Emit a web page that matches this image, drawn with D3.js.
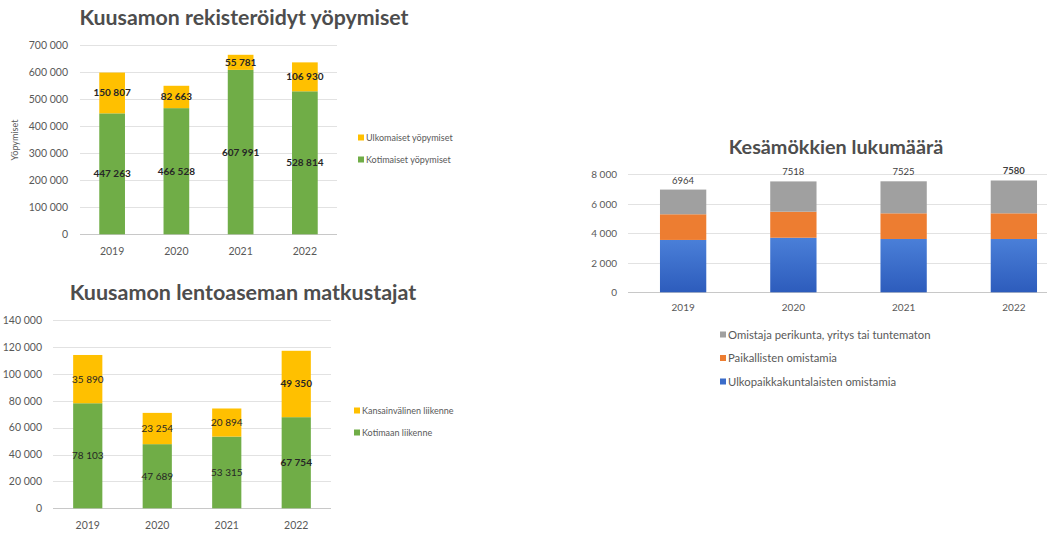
<!DOCTYPE html>
<html lang="fi">
<head>
<meta charset="utf-8">
<script src="https://cdn.jsdelivr.net/npm/d3@7"></script>
<style>
  html, body { margin: 0; padding: 0; background: #fff; }
  svg { display: block; font-family: Lato, "Open Sans", sans-serif; }
  .title { font-weight: 700; fill: #4d4d4d; }
  .tick text { fill: #595959; }
  .legend text { fill: #595959; }
</style>
</head>
<body>
<svg id="c" width="1047" height="533"></svg>
<script>
// --- data ---------------------------------------------------------------
const years = ["2019", "2020", "2021", "2022"];

// Kuusamon rekisteröidyt yöpymiset
const stayDomestic = [447263, 466528, 607991, 528814];
const stayForeign  = [150807, 82663, 55781, 106930];
const stayTicks    = [0, 100000, 200000, 300000, 400000, 500000, 600000, 700000];

// Kuusamon lentoaseman matkustajat
const paxDomestic = [78103, 47689, 53315, 67754];
const paxIntl     = [35890, 23254, 20894, 49350];
const paxTicks    = [0, 20000, 40000, 60000, 80000, 100000, 120000, 140000];

// Kesämökkien lukumäärä
const cottageNonLocal = [3550, 3700, 3615, 3615];
const cottageLocal    = [1740, 1765, 1740, 1740];
const cottageOther    = [1674, 2053, 2170, 2225];
const cottageTicks    = [0, 2000, 4000, 6000, 8000];

// --- helpers --------------------------------------------------------------
const fi = d3.formatLocale({ decimal: ",", thousands: " ", grouping: [3], currency: ["", " €"] });
const fmt = fi.format(",d");

const svg = d3.select("#c");
const defs = svg.append("defs");
const blueGrad = defs.append("linearGradient")
  .attr("id", "blueGrad").attr("x1", 0).attr("y1", 0).attr("x2", 0).attr("y2", 1);
blueGrad.append("stop").attr("offset", "0%").attr("stop-color", "#4a7fd8");
blueGrad.append("stop").attr("offset", "100%").attr("stop-color", "#2d5cbc");

function stackedChart(cfg) {
  const g = svg.append("g");
  const x = d3.scaleBand().domain(years).range(cfg.xRange).paddingInner(0).paddingOuter(0);
  const y = d3.scaleLinear().domain(cfg.yDomain).range(cfg.yRange);
  const bw = x.bandwidth() * cfg.barFrac;

  // gridlines
  g.append("g").selectAll("line").data(cfg.ticks).join("line")
    .attr("x1", cfg.xRange[0]).attr("x2", cfg.xRange[1])
    .attr("y1", d => Math.round(y(d)) + 0.5).attr("y2", d => Math.round(y(d)) + 0.5)
    .attr("stroke", d => d === 0 ? "#c8c8c8" : "#e2e2e2").attr("stroke-width", 1);

  // y axis labels
  const ya = g.append("g")
    .attr("transform", `translate(${cfg.xRange[0]},0)`)
    .call(d3.axisLeft(y).tickValues(cfg.ticks).tickFormat(fmt).tickSize(0).tickPadding(cfg.yPad));
  ya.select(".domain").remove();
  ya.selectAll("text").attr("font-size", cfg.tickFont).attr("font-family", "Lato, sans-serif");

  // x axis labels
  const xa = g.append("g")
    .attr("transform", `translate(0,${cfg.yRange[0]})`)
    .call(d3.axisBottom(x).tickSize(0).tickPadding(cfg.xPad));
  xa.select(".domain").remove();
  xa.selectAll("text").attr("font-size", cfg.tickFont).attr("font-family", "Lato, sans-serif");

  // stacked series
  const rows = years.map((yr, i) => {
    const r = { year: yr };
    cfg.series.forEach(s => { r[s.key] = s.values[i]; });
    return r;
  });
  const stack = d3.stack().keys(cfg.series.map(s => s.key))(rows);
  stack.forEach((layer, li) => {
    const s = cfg.series[li];
    const lg = g.append("g");
    lg.selectAll("rect").data(layer).join("rect")
      .attr("x", d => x(d.data.year) + (x.bandwidth() - bw) / 2)
      .attr("width", bw)
      .attr("y", d => y(d[1]))
      .attr("height", d => y(d[0]) - y(d[1]))
      .attr("fill", s.fill);
    if (s.labels) {
      lg.selectAll("text").data(layer).join("text")
        .attr("x", d => x(d.data.year) + x.bandwidth() / 2)
        .attr("y", d => (y(d[0]) + y(d[1])) / 2)
        .attr("dy", "0.35em")
        .attr("text-anchor", "middle")
        .attr("font-size", cfg.labelFont)
        .attr("font-weight", (d, i) => s.bold[i] ? 700 : 400)
        .attr("fill", "#262626")
        .text(d => fmt(d[1] - d[0]));
    }
  });

  // totals above bars
  if (cfg.totals) {
    const last = stack[stack.length - 1];
    g.append("g").selectAll("text").data(last).join("text")
      .attr("x", d => x(d.data.year) + x.bandwidth() / 2)
      .attr("y", d => y(d[1]) - 6)
      .attr("text-anchor", "middle")
      .attr("font-size", cfg.labelFont)
      .attr("font-weight", (d, i) => cfg.totalsBold[i] ? 700 : 400)
      .attr("fill", "#404040")
      .text(d => d3.sum(cfg.series, s => s.values[years.indexOf(d.data.year)]));
  }

  // title
  g.append("text").attr("class", "title")
    .attr("x", cfg.title.x).attr("y", cfg.title.y)
    .attr("text-anchor", "middle")
    .attr("font-size", cfg.title.size)
    .text(cfg.title.text);

  // legend
  const leg = g.append("g").attr("class", "legend");
  cfg.legend.items.forEach((it, i) => {
    const ly = cfg.legend.y + i * cfg.legend.dy;
    leg.append("rect").attr("x", cfg.legend.x).attr("y", ly - 3.5)
      .attr("width", 6).attr("height", 6).attr("fill", it.fill);
    leg.append("text").attr("x", cfg.legend.x + 8).attr("y", ly)
      .attr("dy", "0.35em").attr("font-size", cfg.legend.font).text(it.label);
  });

  return { g, x, y };
}

// --- chart 1: yöpymiset ----------------------------------------------------
const c1 = stackedChart({
  xRange: [80, 337], yRange: [234.3, 45], yDomain: [0, 700000], ticks: stayTicks,
  barFrac: 0.4, tickFont: 10.5, labelFont: 10, yPad: 12, xPad: 13,
  series: [
    { key: "Kotimaiset yöpymiset", values: stayDomestic, fill: "#70ad47", labels: true, bold: [1, 1, 1, 1] },
    { key: "Ulkomaiset yöpymiset", values: stayForeign, fill: "#ffc000", labels: true, bold: [1, 1, 1, 1] }
  ],
  title: { text: "Kuusamon rekisteröidyt yöpymiset", x: 244, y: 25, size: 21.3 },
  legend: { x: 358, y: 138, dy: 22, font: 9,
    items: [{ label: "Ulkomaiset yöpymiset", fill: "#ffc000" },
            { label: "Kotimaiset yöpymiset", fill: "#70ad47" }] }
});
c1.g.append("text")
  .attr("transform", "translate(18,140) rotate(-90)")
  .attr("text-anchor", "middle").attr("font-size", 9).attr("fill", "#595959")
  .text("Yöpymiset");

// --- chart 2: lentoaseman matkustajat -------------------------------------
stackedChart({
  xRange: [53, 331], yRange: [508.3, 320], yDomain: [0, 140000], ticks: paxTicks,
  barFrac: 0.42, tickFont: 10.5, labelFont: 10, yPad: 11, xPad: 13,
  series: [
    { key: "Kotimaan liikenne", values: paxDomestic, fill: "#70ad47", labels: true, bold: [0, 0, 0, 1] },
    { key: "Kansainvälinen liikenne", values: paxIntl, fill: "#ffc000", labels: true, bold: [0, 0, 0, 1] }
  ],
  title: { text: "Kuusamon lentoaseman matkustajat", x: 243, y: 300, size: 21.5 },
  legend: { x: 354, y: 411, dy: 22, font: 9,
    items: [{ label: "Kansainvälinen liikenne", fill: "#ffc000" },
            { label: "Kotimaan liikenne", fill: "#70ad47" }] }
});

// --- chart 3: kesämökit -----------------------------------------------------
stackedChart({
  xRange: [628, 1069], yRange: [292.3, 174.3], yDomain: [0, 8000], ticks: cottageTicks,
  barFrac: 0.42, tickFont: 10, labelFont: 9.5, yPad: 11, xPad: 12,
  series: [
    { key: "Ulkopaikkakuntalaisten omistamia", values: cottageNonLocal, fill: "url(#blueGrad)" },
    { key: "Paikallisten omistamia", values: cottageLocal, fill: "#ed7d31" },
    { key: "Omistaja perikunta, yritys tai tuntematon", values: cottageOther, fill: "#a0a0a0" }
  ],
  totals: true, totalsBold: [0, 0, 0, 1],
  title: { text: "Kesämökkien lukumäärä", x: 836, y: 154, size: 19.8 },
  legend: { x: 720, y: 335, dy: 23.5, font: 11.3,
    items: [{ label: "Omistaja perikunta, yritys tai tuntematon", fill: "#a0a0a0" },
            { label: "Paikallisten omistamia", fill: "#ed7d31" },
            { label: "Ulkopaikkakuntalaisten omistamia", fill: "#3b6cc9" }] }
});
</script>
</body>
</html>
